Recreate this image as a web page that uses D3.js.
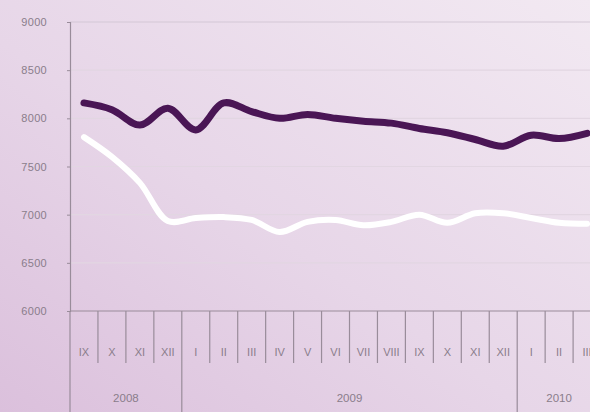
<!DOCTYPE html>
<html>
<head>
<meta charset="utf-8">
<script src="https://cdn.jsdelivr.net/npm/d3@7"></script>
<style>
  html, body { margin: 0; padding: 0; overflow: hidden; }
  svg { display: block; }
</style>
</head>
<body>
<div id="chart"></div>
<script>
// months shown on the axis (roman numerals), Sep 2008 – Mar 2010
const months = ['IX','X','XI','XII','I','II','III','IV','V','VI','VII','VIII','IX','X','XI','XII','I','II','III'];
const years = [
  { label: '2008', start: 0, end: 4 },
  { label: '2009', start: 4, end: 16 },
  { label: '2010', start: 16, end: 19 }
];
const darkSeries  = [8160, 8090, 7930, 8105, 7880, 8160, 8070, 8000, 8040, 8000, 7970, 7950, 7895, 7850, 7780, 7710, 7825, 7790, 7845];
const whiteSeries = [7805, 7600, 7330, 6935, 6965, 6975, 6945, 6820, 6925, 6945, 6890, 6925, 7000, 6915, 7015, 7015, 6965, 6915, 6905];
const yTicks = [6000, 6500, 7000, 7500, 8000, 8500, 9000];

const W = 590, H = 412;
const plotLeft = 70, step = 27.95;
const plotTop = 22, base = 311;

const svg = d3.select('#chart').append('svg')
  .attr('width', W).attr('height', H);

// background wash
const defs = svg.append('defs');
const grad = defs.append('linearGradient')
  .attr('id', 'bg').attr('x1', '0%').attr('y1', '100%').attr('x2', '100%').attr('y2', '0%');
grad.append('stop').attr('offset', '0%').attr('stop-color', '#dbc0dc');
grad.append('stop').attr('offset', '45%').attr('stop-color', '#e7d6e8');
grad.append('stop').attr('offset', '100%').attr('stop-color', '#f2e9f2');
svg.append('rect').attr('width', W).attr('height', H).attr('fill', 'url(#bg)');

const x = d3.scaleBand().domain(d3.range(months.length))
  .range([plotLeft, plotLeft + step * months.length]).padding(0);
const y = d3.scaleLinear([6000, 9000], [base, plotTop]);

const axisCol = '#998c9a', textCol = '#8a7d8b';
const font = 'Liberation Sans, Arial, sans-serif';

// horizontal grid
svg.append('g').selectAll('line').data(yTicks.slice(1)).join('line')
  .attr('x1', plotLeft).attr('x2', W)
  .attr('y1', d => y(d)).attr('y2', d => y(d))
  .attr('stroke', d => d === 9000 ? '#d4c8d5' : '#e2d6e2').attr('stroke-width', 1.2);

// y axis
const yAxis = svg.append('g').attr('transform', `translate(${plotLeft},0)`)
  .call(d3.axisLeft(y).tickValues(yTicks).tickSize(3).tickPadding(20).tickFormat(d3.format('d')));
yAxis.select('.domain').attr('stroke', axisCol).attr('stroke-width', 1.2);
yAxis.selectAll('.tick line').attr('stroke', axisCol);
yAxis.selectAll('.tick text')
  .attr('fill', textCol).attr('font-family', font)
  .attr('font-size', 11).attr('letter-spacing', '0.3px');

// x baseline
svg.append('line').attr('x1', plotLeft).attr('x2', W).attr('y1', base).attr('y2', base)
  .attr('stroke', axisCol).attr('stroke-width', 1.2);

// month separators
const bounds = d3.range(0, months.length + 1);
const yearBounds = new Set(years.map(d => d.start).concat(years.map(d => d.end)));
svg.append('g').selectAll('line').data(bounds).join('line')
  .attr('x1', i => plotLeft + step * i).attr('x2', i => plotLeft + step * i)
  .attr('y1', base)
  .attr('y2', i => yearBounds.has(i) ? H : 363)
  .attr('stroke', axisCol).attr('stroke-width', 1.2);

// month labels
svg.append('g').selectAll('text').data(months).join('text')
  .attr('x', (d, i) => x(i) + x.bandwidth() / 2).attr('y', 356)
  .attr('text-anchor', 'middle')
  .attr('font-family', font).attr('font-size', 11)
  .attr('fill', textCol)
  .text(d => d);

// year labels
svg.append('g').selectAll('text').data(years).join('text')
  .attr('x', d => (x(d.start) + x(d.end - 1) + x.bandwidth()) / 2)
  .attr('y', 402)
  .attr('text-anchor', 'middle')
  .attr('font-family', font).attr('font-size', 11.5)
  .attr('fill', textCol)
  .text(d => d.label);

// series lines
const line = d3.line()
  .x((d, i) => x(i) + x.bandwidth() / 2)
  .y(d => y(d))
  .curve(d3.curveCatmullRom.alpha(0.5));

svg.append('path').datum(whiteSeries)
  .attr('d', line).attr('fill', 'none')
  .attr('stroke', '#ffffff').attr('stroke-width', 6)
  .attr('stroke-linecap', 'round').attr('stroke-linejoin', 'round');

svg.append('path').datum(darkSeries)
  .attr('d', line).attr('fill', 'none')
  .attr('stroke', '#4a1655').attr('stroke-width', 7)
  .attr('stroke-linecap', 'round').attr('stroke-linejoin', 'round');
</script>
</body>
</html>
